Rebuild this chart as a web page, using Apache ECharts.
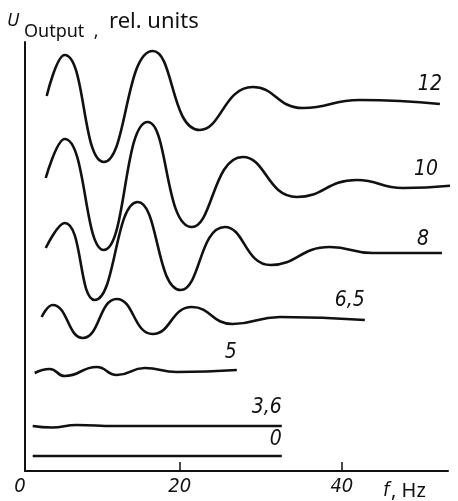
<!DOCTYPE html>
<html><head><meta charset="utf-8">
<script src="https://cdn.jsdelivr.net/npm/echarts@6/dist/echarts.min.js"></script>
<style>html,body{margin:0;padding:0;background:#fff}#c{width:458px;height:501px}</style>
</head><body><div id="c"></div>
<script>
// Curve labels (parameter values)
const curveNames = ['12', '10', '8', '6,5', '5', '3,6', '0'];
// Frequency (Hz) / output (rel. units) per curve
const f12 = [3.58, 5.80, 10.62, 16.67, 22.47, 29.01, 35.19, 42.22, 52.10];
const u12 = [375, 416, 309, 420, 341, 384, 363, 371, 367];
const f10 = [3.46, 5.80, 10.62, 16.05, 21.48, 27.78, 34.44, 41.85, 47.53, 54.32];
const u10 = [293, 332, 221, 349, 244, 314, 274, 291, 283, 286];
const f8 = [3.46, 5.80, 9.51, 14.81, 20.12, 25.56, 31.23, 38.52, 43.83, 52.35];
const u8 = [223, 248, 171, 269, 181, 244, 206, 224, 218, 218];
const f65 = [2.96, 4.32, 8.02, 12.22, 16.67, 21.48, 26.54, 32.35, 42.84];
const u65 = [154, 166, 133, 172, 137, 164, 147, 154, 151];
const f5 = [2.10, 3.95, 5.80, 9.75, 12.22, 15.68, 19.63, 27.04];
const u5 = [98, 102, 95, 104, 96, 103, 99, 101];
const f36 = [1.85, 4.20, 7.28, 12.0, 32.59];
const u36 = [45, 43.5, 46, 45, 45];
const f0 = [1.85, 12.0, 32.59];
const u0 = [15, 15, 15];
// Axis ticks
const xTicks = [20, 40];
const xTickLabels = [0, 20, 40];

const curves = [[f12, u12], [f10, u10], [f8, u8], [f65, u65], [f5, u5], [f36, u36], [f0, u0]];
// label placement (pixel offsets from curve end) -- style only
const labelOffsets = [[2, -9], [-12, -5], [-13, -3], [0, -9], [0, -7], [0, -8], [0, -6]];

const X_MIN = 0.9, X_MAX = 53.1;
const ink = '#111';
const labelFont = "'DejaVu Sans Condensed', sans-serif";

const series = curves.map(([fs, us], i) => {
  const data = fs.map((f, k) => [f, us[k]]);
  return {
    type: 'line', name: curveNames[i], data, smooth: 0.5, showSymbol: false, symbol: 'none',
    clip: false, lineStyle: { color: ink, width: 2.6 }, silent: true,
    endLabel: {
      show: true, formatter: curveNames[i], distance: 0, offset: labelOffsets[i],
      align: 'right', verticalAlign: 'bottom',
      fontFamily: labelFont, fontStyle: 'italic', fontSize: 21, color: ink
    }
  };
});

const chart = echarts.init(document.getElementById('c'), null, { renderer: 'canvas' });
chart.setOption({
  animation: false,
  backgroundColor: '#fff',
  grid: { left: 25, right: 10, top: 42, bottom: 30, containLabel: false },
  xAxis: {
    type: 'value', min: X_MIN, max: X_MAX,
    axisLine: { show: true, lineStyle: { color: ink, width: 2 } },
    axisTick: { show: true, inside: true, length: 9, customValues: xTicks, lineStyle: { color: ink, width: 1.5 } },
    axisLabel: {
      show: true, customValues: [X_MIN, 20, 40], margin: 6,
      formatter: v => (v === X_MIN ? '{z|' + xTickLabels[0] + '}' : String(v)),
      fontFamily: "'DejaVu Sans Condensed', sans-serif", fontStyle: 'italic', fontSize: 20, color: ink,
      rich: { z: { fontFamily: "'DejaVu Sans Condensed', sans-serif", fontStyle: 'italic', fontSize: 20, color: ink, padding: [0, 10, 0, 0] } }
    },
    splitLine: { show: false }
  },
  yAxis: {
    type: 'value', min: 0, max: 429,
    axisLine: { show: true, lineStyle: { color: ink, width: 2 } },
    axisTick: { show: false }, axisLabel: { show: false }, splitLine: { show: false }
  },
  graphic: [
    { type: 'text', left: 7, top: 12, style: { text: 'U', font: "italic 18px 'Noto Sans', sans-serif", fill: ink } },
    { type: 'text', left: 24, top: 23, style: { text: 'Output  ,', font: "18px 'Noto Sans', sans-serif", fill: ink } },
    { type: 'text', left: 109, top: 11, style: { text: 'rel. units', font: "22px 'Noto Sans', sans-serif", fill: ink } },
    { type: 'text', left: 383, top: 481, style: { text: 'f', font: "italic 20px 'DejaVu Sans Condensed', sans-serif", fill: ink } },
    { type: 'text', left: 391, top: 481, style: { text: ', Hz', font: "20px 'Noto Sans', sans-serif", fill: ink } }
  ],
  series
});
</script>
</body></html>
